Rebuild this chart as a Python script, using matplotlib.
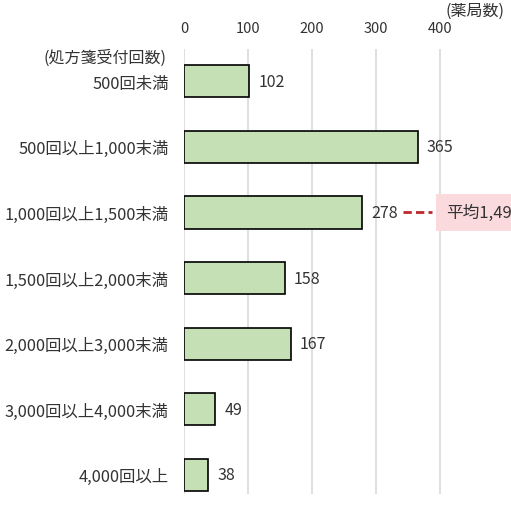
import matplotlib.pyplot as plt

plt.rcParams['font.family'] = ['Noto Sans CJK JP', 'DejaVu Sans']

categories = ['500回未満', '500回以上1,000末満', '1,000回以上1,500末満', '1,500回以上2,000末満',
              '2,000回以上3,000末満', '3,000回以上4,000末満', '4,000回以上']
counts = [102, 365, 278, 158, 167, 49, 38]
xticks = [0, 100, 200, 300, 400]
avg_label = '平均1,495回'
avg_index = 2

fig = plt.figure(figsize=(5.11, 5.06), dpi=100)
ax = fig.add_axes([0.36, 0.022, 0.64, 0.879])

y = list(range(len(categories)))
ax.barh(y, counts, height=0.49, color='#c5e0b4', edgecolor='black', linewidth=1.2, zorder=3)
for i, v in enumerate(counts):
    ax.text(v + 14, i, str(v), va='center', ha='left', fontsize=11.5, color='#333333')

ax.set_xlim(0, 511)
ax.set_ylim(6.29, -0.49)
ax.set_xticks(xticks)
ax.xaxis.tick_top()
ax.tick_params(axis='x', length=0, labelsize=10.5, pad=10, colors='#333333')
ax.set_yticks(y)
ax.set_yticklabels(categories, fontsize=11.8, color='#333333')
ax.tick_params(axis='y', length=0, pad=11)
ax.grid(axis='x', color='#d9d9d9', linewidth=1.2, zorder=0)
for s in ax.spines.values():
    s.set_visible(False)

# header labels
fig.text(0.325, 0.885, '(処方箋受付回数)', ha='right', va='center', fontsize=11.5, color='#333333')
fig.text(0.93, 0.978, '(薬局数)', ha='center', va='center', fontsize=11.5, color='#333333')

# average marker
v = counts[avg_index]
ax.plot([v + 64, v + 109], [avg_index, avg_index], color='#c0272d', linestyle='--',
        linewidth=2, dashes=(3, 1.5), zorder=4)
ax.text(v + 131, avg_index, avg_label, ha='left', va='center', fontsize=12, color='#333333',
        bbox=dict(boxstyle='square,pad=0.6', facecolor='#fadadd', edgecolor='none'), clip_on=False)

fig.savefig('out.png', dpi=100)
